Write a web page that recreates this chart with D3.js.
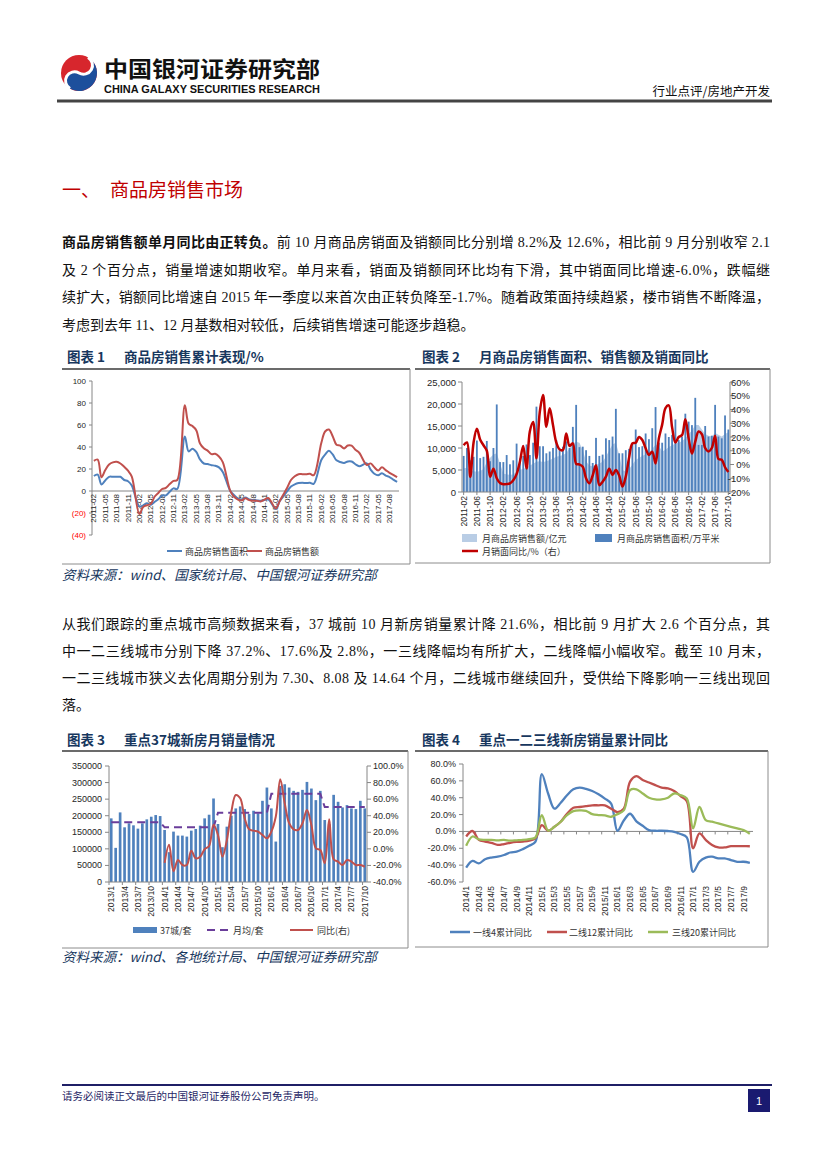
<!DOCTYPE html>
<html><head><meta charset="utf-8">
<script src="https://cdn.jsdelivr.net/npm/d3@7"></script>
<style>html,body{margin:0;padding:0;background:#fff}svg{display:block}</style>
</head><body><svg id="page" width="827" height="1169"></svg>
<script>
// ---------------- DATA ----------------
// Chart 1: cumulative YoY (%), monthly 2011-02 .. 2017-10 (January has no separate value)
const c1Area = [13.6,14.9,6.0,9.6,12.9,13.0,12.9,12.9,10.0,8.9,4.9,
  null,-14.0,-13.1,-11.1,-12.6,-10.0,-7.5,-4.1,-4.0,-0.7,2.4,1.8,
  null,49.5,36.0,38.5,35.6,28.7,25.0,24.5,23.5,23.0,21.5,17.3,
  null,-0.1,-3.8,-6.8,-7.8,-6.0,-7.6,-8.3,-8.6,-8.9,-8.2,-7.6,
  null,-16.3,-9.2,-4.8,-0.2,4.0,6.1,7.2,7.5,7.2,7.4,6.5,
  null,28.2,33.1,36.5,33.2,27.9,26.4,25.5,26.9,26.8,24.3,22.5,
  null,25.1,19.5,15.7,14.3,16.1,14.0,12.7,10.3,8.2];
const c1Value = [27.4,28.6,12.5,19.0,24.0,26.0,26.5,25.0,22.0,18.5,13.0,
  null,-20.9,-14.5,-12.9,-11.9,-5.2,-1.8,1.8,2.9,6.3,9.2,10.0,
  null,77.9,61.2,59.0,55.3,43.2,38.9,36.7,33.5,33.8,31.3,26.3,
  null,-0.1,-5.2,-7.8,-8.5,-6.7,-8.3,-8.9,-8.9,-9.5,-7.8,-6.3,
  null,-15.8,-9.3,-3.1,3.0,10.0,13.4,15.3,15.3,15.2,15.6,14.4,
  null,43.6,54.1,55.9,49.8,42.1,41.3,38.7,41.3,41.2,37.5,34.8,
  null,23.7,25.1,21.5,18.6,21.5,19.0,16.5,14.6,12.6];
const c1XLabels = ["2011-02","2011-05","2011-08","2011-11","2012-02","2012-05","2012-08","2012-11","2013-02","2013-05","2013-08","2013-11","2014-02","2014-05","2014-08","2014-11","2015-02","2015-05","2015-08","2015-11","2016-02","2016-05","2016-08","2016-11","2017-02","2017-05","2017-08"];
const c1YTicks = [100,80,60,40,20,0,-20,-40];
const c1YLabels = ["100","80","60","40","20","0","(20)","(40)"];
const c1Legend = ["商品房销售面积","商品房销售额"];

// Chart 2: monthly 2011-02 .. 2017-10
const c2AreaBars = [8200,10000,7200,8000,11700,7700,8000,11600,7000,10000,19900,
  6800,6800,8400,6300,7200,11000,7600,8200,10800,8400,11200,19400,
  10400,10400,8800,9200,10000,11800,9500,10300,11500,10000,14800,19800,
  10200,10300,9500,8200,6600,12300,8200,8500,12200,11800,12600,18900,
  8800,8800,9500,9800,11000,14200,10200,10400,13300,12000,14500,19300,
  11200,11200,13300,12500,13000,16500,11800,12600,17800,16000,15200,21400,
  10700,10700,15000,12600,12800,19800,12600,12200,17400,14200];
const c2ValueArea = [5400,5500,5000,4700,4600,4800,5200,6800,7800,8500,8800,
  6500,4200,4000,3900,4000,4600,5000,5300,5500,6000,6400,6900,
  7000,6800,7000,7300,7600,8000,8200,8400,8800,10000,11000,11400,
  11200,9500,7000,6000,5800,6200,6500,6900,8000,9500,10800,11200,
  8500,5000,4600,5200,6200,7300,7800,8200,8600,9000,9800,10800,
  10500,9200,9600,10200,10600,11000,11200,11600,12200,13200,14000,15200,
  15200,14200,13200,12800,12600,13400,13000,12600,13200,13600];
const c2YoY = [14,16,-9,16,26,18,14,10,-9,-3,-10,
  -13.5,-14.4,-14.2,-13.7,-11.5,-7,2,13.5,-3,24,31,4.5,
  38,50.5,27.5,41,28.7,16,11,10.5,22.6,13.5,15.4,0.5,
  0,-1.6,-10,-13.7,-8,-0.5,-15,-12.5,-8.8,-3,-7.6,-4,
  -8,-16,-8.8,5,15.4,15.8,20,17.8,11.8,7,9.3,0.8,
  19,29,41,43,27,16,20,21.4,33,19,8,16.6,
  24,22,12,9.5,12,21,4,3.5,-2,-5.5];
const c2XLabels = ["2011-02","2011-06","2011-10","2012-02","2012-06","2012-10","2013-02","2013-06","2013-10","2014-02","2014-06","2014-10","2015-02","2015-06","2015-10","2016-02","2016-06","2016-10","2017-02","2017-06","2017-10"];
const c2LeftTicks = [0,5000,10000,15000,20000,25000];
const c2LeftLabels = ["0","5,000","10,000","15,000","20,000","25,000"];
const c2RightTicks = [60,50,40,30,20,10,0,-10,-20];
const c2RightLabels = ["60%","50%","40%","30%","20%","10%","0%","-10%","-20%"];
const c2Legend = ["月商品房销售额/亿元","月商品房销售面积/万平米","月销面同比/%（右）"];

// Chart 3: 37 cities, monthly 2013/1 .. 2017/10
const c3Sales = [192000,103000,210000,165000,177000,171000,161000,177000,189000,197000,202000,199000,
  157000,90000,152000,140000,140000,137000,155000,160000,170000,192000,203000,252000,
  175000,105000,167000,200000,222000,228000,220000,205000,215000,207000,245000,285000,
  222000,122000,290000,295000,285000,275000,272000,278000,302000,282000,247000,275000,
  187000,175000,263000,242000,225000,232000,222000,220000,245000,222000];
const c3MonthlyAvg = [180000,180000,180000,180000,180000,180000,180000,180000,180000,180000,180000,180000,
  165000,165000,165000,165000,165000,165000,165000,165000,165000,165000,165000,165000,
  209000,209000,209000,209000,209000,209000,209000,209000,209000,209000,209000,209000,
  266000,266000,266000,266000,266000,266000,266000,266000,266000,266000,266000,266000,
  226000,226000,226000,226000,226000,226000,226000,226000,226000,226000];
const c3YoY = [null,null,null,null,null,null,null,null,null,null,null,null,
  -17,5,-27,-13.5,-19.5,-19.5,-2.2,-11.4,-9.4,-0.5,3.4,29,
  16.7,-9.4,10.7,44.8,65,61,37,23.6,22,20.8,16.7,12.7,
  20.8,39,84,55,31,23.6,22.8,31,47,28.8,0.6,-1.4,
  -17.4,35.6,-12.6,-15.4,-19.5,-13.5,-15.4,-19.5,-19.5,-21.6];
const c3XLabels = ["2013/1","2013/4","2013/7","2013/10","2014/1","2014/4","2014/7","2014/10","2015/1","2015/4","2015/7","2015/10","2016/1","2016/4","2016/7","2016/10","2017/1","2017/4","2017/7","2017/10"];
const c3LeftTicks = [0,50000,100000,150000,200000,250000,300000,350000];
const c3LeftLabels = ["0","50000","100000","150000","200000","250000","300000","350000"];
const c3RightTicks = [100,80,60,40,20,0,-20,-40];
const c3RightLabels = ["100.0%","80.0%","60.0%","40.0%","20.0%","0.0%","-20.0%","-40.0%"];
const c3Legend = ["37城/套","月均/套","同比(右)"];

// Chart 4: cumulative YoY (%), monthly 2014/1 .. 2017/10
const c4Tier1 = [-43,-35,-38,-33,-31,-30,-28,-25,-24,-21,-17,-12,
  68,45,27,34,43,50,52,50.6,48,44,39,33,
  0.8,13,21,12,6.7,1.6,0.8,0.8,0.5,-0.4,-3,-7,
  -48,-36,-31,-30,-32,-32,-34,-36,-36,-37.2];
const c4Tier2 = [-6,0.5,-10,-12,-13.5,-16,-15,-13.5,-12.5,-12,-11,-8,
  7.5,0.8,5.5,11.5,21,28,29,30,31,31,31,27,
  23,27,59,65.6,61,58,55,52,51,48,42,36,
  -20,-2.4,-10,-16,-19,-19,-17.5,-17.5,-17.5,-17.6];
const c4Tier3 = [-17,-6,-9.5,-10,-10,-10.5,-10,-11,-10.5,-10,-9,-7,
  19.4,1,5.5,11.5,19.4,24,25,24.5,20.5,19.4,19,17.4,
  20.5,25,49,50,45,40,38,38,40,45,43,39,
  3.6,29,13.4,11.5,9.5,7.5,5.5,3.6,1.6,-2.8];
const c4XLabels = ["2014/1","2014/3","2014/5","2014/7","2014/9","2014/11","2015/1","2015/3","2015/5","2015/7","2015/9","2015/11","2016/1","2016/3","2016/5","2016/7","2016/9","2016/11","2017/1","2017/3","2017/5","2017/7","2017/9"];
const c4YTicks = [80,60,40,20,0,-20,-40,-60];
const c4YLabels = ["80.0%","60.0%","40.0%","20.0%","0.0%","-20.0%","-40.0%","-60.0%"];
const c4Legend = ["一线4累计同比","二线12累计同比","三线20累计同比"];

// Text
const para1 = [
  [{t:"商品房销售额单月同比由正转负。",b:true},{t:"前 10 月商品房销面及销额同比分别增 8.2%及 12.6%，相比前 9 月分别收窄 2.1"}],
  [{t:"及 2 个百分点，销量增速如期收窄。单月来看，销面及销额同环比均有下滑，其中销面同比增速-6.0%，跌幅继"}],
  [{t:"续扩大，销额同比增速自 2015 年一季度以来首次由正转负降至-1.7%。随着政策面持续趋紧，楼市销售不断降温，"}],
  [{t:"考虑到去年 11、12 月基数相对较低，后续销售增速可能逐步趋稳。"}]
];
const para2 = [
  [{t:"从我们跟踪的重点城市高频数据来看，37 城前 10 月新房销量累计降 21.6%，相比前 9 月扩大 2.6 个百分点，其"}],
  [{t:"中一二三线城市分别下降 37.2%、17.6%及 2.8%，一三线降幅均有所扩大，二线降幅小幅收窄。截至 10 月末，"}],
  [{t:"一二三线城市狭义去化周期分别为 7.30、8.08 及 14.64 个月，二线城市继续回升，受供给下降影响一三线出现回"}],
  [{t:"落。"}]
];

// ---------------- DRAW ----------------
const CJK = "'Noto Sans CJK SC', sans-serif";
const NUM = "'Liberation Sans', 'Noto Sans CJK SC', sans-serif";
const BODY = "'Liberation Serif', 'Noto Sans CJK SC', serif";
const NAVY = "#17375e";
const BLUE = "#4f81bd", RED = "#c0504d", GREEN = "#9bbb59";
const svg = d3.select("#page");
svg.append("rect").attr("width",827).attr("height",1169).attr("fill","#fff");

// Header
(function(){
  const g = svg.append("g");
  const cx = 79, cy = 73, r = 18;
  g.append("circle").attr("cx",cx).attr("cy",cy).attr("r",r).attr("fill","#d7262d");
  const a1 = -60*Math.PI/180, a2 = 120*Math.PI/180;
  const p1 = [cx + r*Math.cos(a1), cy + r*Math.sin(a1)], p2 = [cx + r*Math.cos(a2), cy + r*Math.sin(a2)];
  g.append("path").attr("fill","#1d4f9c")
    .attr("d",`M${p1[0]},${p1[1]} A${r},${r} 0 0 1 ${p2[0]},${p2[1]} A${r/2},${r/2} 0 0 1 ${cx},${cy} A${r/2},${r/2} 0 0 0 ${p1[0]},${p1[1]} Z`);
  g.append("path").attr("fill","none").attr("stroke","#fff").attr("stroke-width",3)
    .attr("d",`M${p2[0]},${p2[1]} A${r/2},${r/2} 0 0 1 ${cx},${cy} A${r/2},${r/2} 0 0 0 ${p1[0]},${p1[1]}`);
  g.append("text").attr("x",104).attr("y",77).attr("font-family",CJK).attr("font-weight","bold")
    .attr("font-size",22).attr("textLength",216).attr("lengthAdjust","spacingAndGlyphs").attr("fill","#111").text("中国银河证券研究部");
  g.append("text").attr("x",104).attr("y",93).attr("font-family",NUM).attr("font-weight","bold")
    .attr("font-size",10).attr("textLength",216).attr("lengthAdjust","spacingAndGlyphs").attr("fill","#111").text("CHINA GALAXY SECURITIES RESEARCH");
  g.append("text").attr("x",770).attr("y",96).attr("text-anchor","end").attr("font-family",CJK)
    .attr("font-size",12.5).attr("fill","#111").text("行业点评/房地产开发");
  g.append("line").attr("x1",57).attr("x2",772).attr("y1",101).attr("y2",101).attr("stroke","#444").attr("stroke-width",3);
})();

// Section title
svg.append("text").attr("x",62).attr("y",197).attr("font-family",CJK).attr("font-size",19).attr("fill","#c00000").text("一、");
svg.append("text").attr("x",110).attr("y",197).attr("font-family",CJK).attr("font-size",19).attr("fill","#c00000").text("商品房销售市场");

function paragraph(lines, y0, lh){
  lines.forEach((segs, k) => {
    const t = svg.append("text").attr("x",62).attr("y",y0 + k*lh).attr("font-family",BODY)
      .attr("font-size",14).attr("fill","#111");
    if (k < lines.length - 1) t.attr("textLength",708).attr("lengthAdjust","spacing");
    segs.forEach(s => t.append("tspan").attr("font-weight", s.b ? "bold" : "normal").text(s.t));
  });
}
paragraph(para1, 247, 27.7);
paragraph(para2, 629, 27);

function chartFrame(x, y, num, title, x0, x1, lineY, bottom, rightX){
  svg.append("text").attr("x",x).attr("y",y).attr("font-family",CJK).attr("font-weight","bold")
    .attr("font-size",13.5).attr("fill",NAVY).text("图表 " + num);
  svg.append("text").attr("x",x+57).attr("y",y).attr("font-family",CJK).attr("font-weight","bold")
    .attr("font-size",13.5).attr("fill",NAVY).text(title);
  svg.append("line").attr("x1",x0).attr("x2",x1).attr("y1",lineY).attr("y2",lineY).attr("stroke","#3a3a3a").attr("stroke-width",1.5);
  svg.append("line").attr("x1",x0).attr("x2",rightX).attr("y1",bottom).attr("y2",bottom).attr("stroke","#8c8c8c").attr("stroke-width",1);
  svg.append("line").attr("x1",rightX).attr("x2",rightX).attr("y1",lineY).attr("y2",bottom).attr("stroke","#8c8c8c").attr("stroke-width",1);
}
function source(y, txt){
  svg.append("text").attr("x",62).attr("y",y).attr("font-family",CJK).attr("font-style","italic")
    .attr("font-size",13.5).attr("fill",NAVY).text(txt);
}
function vlabel(g, x, y, txt, size){
  g.append("text").attr("transform",`translate(${x},${y}) rotate(-90)`).attr("text-anchor","end")
    .attr("dominant-baseline","central").attr("font-size",size).attr("font-family",NUM).attr("fill","#262626").text(txt);
}
function legendText(g, x, y, txt){
  g.append("text").attr("x",x).attr("y",y).attr("dominant-baseline","central").attr("font-family",CJK)
    .attr("font-size",9).attr("fill","#333").text(txt);
}
function hline(g,x1,x2,y,c,w){g.append("line").attr("x1",x1).attr("x2",x2).attr("y1",y).attr("y2",y).attr("stroke",c).attr("stroke-width",w||1);}
function vline(g,x,y1,y2,c,w){g.append("line").attr("x1",x).attr("x2",x).attr("y1",y1).attr("y2",y2).attr("stroke",c).attr("stroke-width",w||1);}
const AX = "#868686";

chartFrame(67, 362, 1, "商品房销售累计表现/%", 62, 410, 369, 564, 410);
chartFrame(422, 362, 2, "月商品房销售面积、销售额及销面同比", 415, 770, 369, 563, 770);
source(580, "资料来源：wind、国家统计局、中国银河证券研究部");
chartFrame(67, 745, 3, "重点37城新房月销量情况", 62, 408, 751, 948, 408);
chartFrame(422, 745, 4, "重点一二三线新房销量累计同比", 415, 768, 751, 947, 768);
source(962, "资料来源：wind、各地统计局、中国银河证券研究部");

// ---------- Chart 1 ----------
(function(){
  const g = svg.append("g");
  const y = d3.scaleLinear().domain([-40,100]).range([535,381]);
  const x = d3.scaleBand().domain(d3.range(c1Area.length)).range([92,399]);
  const cx = i => x(i) + x.bandwidth()/2;
  vline(g, 92, 381, 535, AX);
  c1YTicks.forEach((v,k) => {
    hline(g, 89, 92, y(v), AX);
    g.append("text").attr("x",86).attr("y",y(v)).attr("dominant-baseline","central").attr("text-anchor","end")
      .attr("font-family",NUM).attr("font-size",8).attr("fill", v < 0 ? "#ff0000" : "#262626").text(c1YLabels[k]);
  });
  hline(g, 92, 399, y(0), AX);
  c1XLabels.forEach((lab,k) => vlabel(g, cx(k*3), y(0)+3, lab, 8));
  const line = d3.line().x(d => cx(d.i)).y(d => y(d.v)).curve(d3.curveCatmullRom.alpha(0.5));
  const toPts = arr => arr.map((v,i) => ({i, v})).filter(d => d.v !== null);
  g.append("path").attr("d", line(toPts(c1Area))).attr("fill","none").attr("stroke",BLUE).attr("stroke-width",2);
  g.append("path").attr("d", line(toPts(c1Value))).attr("fill","none").attr("stroke",RED).attr("stroke-width",2);
  hline(g, 167, 182, 551, BLUE, 2); legendText(g, 185, 551, c1Legend[0]);
  hline(g, 247, 262, 551, RED, 2); legendText(g, 265, 551, c1Legend[1]);
})();

// ---------- Chart 2 ----------
(function(){
  const g = svg.append("g");
  const yL = d3.scaleLinear().domain([0,25000]).range([492,382]);
  const yR = d3.scaleLinear().domain([-20,60]).range([492,382]);
  const x = d3.scaleBand().domain(d3.range(c2AreaBars.length)).range([462,730]).paddingInner(0.45).paddingOuter(0.225);
  const cx = i => x(i) + x.bandwidth()/2;
  const area = d3.area().x((d,i) => cx(i)).y0(yL(0)).y1(d => yL(d));
  g.append("path").attr("d", area(c2ValueArea)).attr("fill","#b9cde5");
  g.selectAll("rect.bar").data(c2AreaBars).join("rect").attr("class","bar")
    .attr("x",(d,i) => x(i)).attr("width", x.bandwidth()).attr("y", d => yL(d)).attr("height", d => yL(0) - yL(d)).attr("fill",BLUE);
  vline(g, 462, 382, 492, AX);
  c2LeftTicks.forEach((v,k) => {
    hline(g, 458, 462, yL(v), AX);
    g.append("text").attr("x",456).attr("y",yL(v)).attr("dominant-baseline","central").attr("text-anchor","end")
      .attr("font-family",NUM).attr("font-size",9.5).attr("fill","#262626").text(c2LeftLabels[k]);
  });
  vline(g, 730, 382, 492, AX);
  c2RightTicks.forEach((v,k) => {
    hline(g, 730, 734, yR(v), AX);
    g.append("text").attr("x",750).attr("y",yR(v)).attr("dominant-baseline","central").attr("text-anchor","end")
      .attr("font-family",NUM).attr("font-size",9.5).attr("fill","#262626").text(c2RightLabels[k]);
  });
  hline(g, 462, 730, 492, AX);
  c2XLabels.forEach((lab,k) => { vline(g, cx(k*4), 492, 495, AX); vlabel(g, cx(k*4), 496, lab, 8.5); });
  const line = d3.line().x((d,i) => cx(i)).y(d => yR(d)).curve(d3.curveCatmullRom.alpha(0.5));
  g.append("path").attr("d", line(c2YoY)).attr("fill","none").attr("stroke","#c00000").attr("stroke-width",2.5);
  g.append("rect").attr("x",462).attr("y",534).attr("width",15).attr("height",8).attr("fill","#b9cde5");
  legendText(g, 482, 538, c2Legend[0]);
  g.append("rect").attr("x",595).attr("y",534).attr("width",17).attr("height",8).attr("fill",BLUE);
  legendText(g, 617, 538, c2Legend[1]);
  hline(g, 462, 478, 551, "#c00000", 2.5);
  legendText(g, 482, 551, c2Legend[2]);
})();

// ---------- Chart 3 ----------
(function(){
  const g = svg.append("g");
  const yL = d3.scaleLinear().domain([0,350000]).range([882,766]);
  const yR = d3.scaleLinear().domain([-40,100]).range([882,766]);
  const x = d3.scaleBand().domain(d3.range(c3Sales.length)).range([109,367]).paddingInner(0.4).paddingOuter(0.2);
  const cx = i => x(i) + x.bandwidth()/2;
  g.selectAll("rect.bar").data(c3Sales).join("rect").attr("class","bar")
    .attr("x",(d,i) => x(i)).attr("width", x.bandwidth()).attr("y", d => yL(d)).attr("height", d => yL(0) - yL(d)).attr("fill",BLUE);
  vline(g, 109, 766, 882, AX);
  c3LeftTicks.forEach((v,k) => {
    hline(g, 105, 109, yL(v), AX);
    g.append("text").attr("x",102).attr("y",yL(v)).attr("dominant-baseline","central").attr("text-anchor","end")
      .attr("font-family",NUM).attr("font-size",9).attr("fill","#262626").text(c3LeftLabels[k]);
  });
  vline(g, 367, 766, 882, AX);
  c3RightTicks.forEach((v,k) => {
    hline(g, 367, 371, yR(v), AX);
    g.append("text").attr("x",373).attr("y",yR(v)).attr("dominant-baseline","central").attr("text-anchor","start")
      .attr("font-family",NUM).attr("font-size",9).attr("fill","#262626").text(c3RightLabels[k]);
  });
  hline(g, 109, 367, 882, AX);
  c3XLabels.forEach((lab,k) => { vline(g, x(k*3) - x.step()*x.paddingInner()/2, 882, 885, AX); vlabel(g, cx(k*3), 886, lab, 8.5); });
  const avg = d3.line().x((d,i) => cx(i)).y(d => yL(d));
  g.append("path").attr("d", avg(c3MonthlyAvg)).attr("fill","none").attr("stroke","#6a3d9a").attr("stroke-width",2).attr("stroke-dasharray","8,5");
  const pts = c3YoY.map((v,i) => ({i, v})).filter(d => d.v !== null);
  const line = d3.line().x(d => cx(d.i)).y(d => yR(d.v)).curve(d3.curveCatmullRom.alpha(0.5));
  g.append("path").attr("d", line(pts)).attr("fill","none").attr("stroke",RED).attr("stroke-width",2);
  g.append("rect").attr("x",133).attr("y",927).attr("width",24).attr("height",6).attr("fill",BLUE);
  legendText(g, 160, 930, c3Legend[0]);
  g.append("line").attr("x1",207).attr("x2",230).attr("y1",930).attr("y2",930).attr("stroke","#6a3d9a").attr("stroke-width",2).attr("stroke-dasharray","8,5");
  legendText(g, 233, 930, c3Legend[1]);
  hline(g, 290, 313, 930, RED, 2);
  legendText(g, 317, 930, c3Legend[2]);
})();

// ---------- Chart 4 ----------
(function(){
  const g = svg.append("g");
  const y = d3.scaleLinear().domain([-60,80]).range([882,764]);
  const x = d3.scaleBand().domain(d3.range(c4Tier1.length)).range([463,753]);
  const cx = i => x(i) + x.bandwidth()/2;
  vline(g, 463, 764, 882, AX);
  c4YTicks.forEach((v,k) => {
    hline(g, 459, 463, y(v), AX);
    g.append("text").attr("x",456).attr("y",y(v)).attr("dominant-baseline","central").attr("text-anchor","end")
      .attr("font-family",NUM).attr("font-size",9).attr("fill","#262626").text(c4YLabels[k]);
  });
  hline(g, 463, 753, y(0), AX);
  c4XLabels.forEach((lab,k) => { vline(g, x(k*2), y(0), y(0)+3, AX); vlabel(g, cx(k*2), 886, lab, 8.5); });
  const line = d3.line().x((d,i) => cx(i)).y(d => y(d)).curve(d3.curveCatmullRom.alpha(0.5));
  [[c4Tier1,BLUE],[c4Tier2,RED],[c4Tier3,GREEN]].forEach(([arr,c]) =>
    g.append("path").attr("d", line(arr)).attr("fill","none").attr("stroke",c).attr("stroke-width",2.3));
  hline(g, 450, 470, 932, BLUE, 2.5); legendText(g, 473, 932, c4Legend[0]);
  hline(g, 547, 567, 932, RED, 2.5); legendText(g, 569, 932, c4Legend[1]);
  hline(g, 648, 668, 932, GREEN, 2.5); legendText(g, 672, 932, c4Legend[2]);
})();

// Footer
hline(svg, 62, 772, 1085, "#1f1f66", 2);
svg.append("text").attr("x",62).attr("y",1100).attr("font-family",CJK).attr("font-size",10.5).attr("fill","#1f1f66").text("请务必阅读正文最后的中国银河证券股份公司免责声明。");
svg.append("rect").attr("x",748).attr("y",1089).attr("width",22).attr("height",23).attr("fill","#1a1a70");
svg.append("text").attr("x",759).attr("y",1101).attr("text-anchor","middle").attr("dominant-baseline","central")
  .attr("font-family",NUM).attr("font-size",11).attr("fill","#fff").text("1");
</script></body></html>
